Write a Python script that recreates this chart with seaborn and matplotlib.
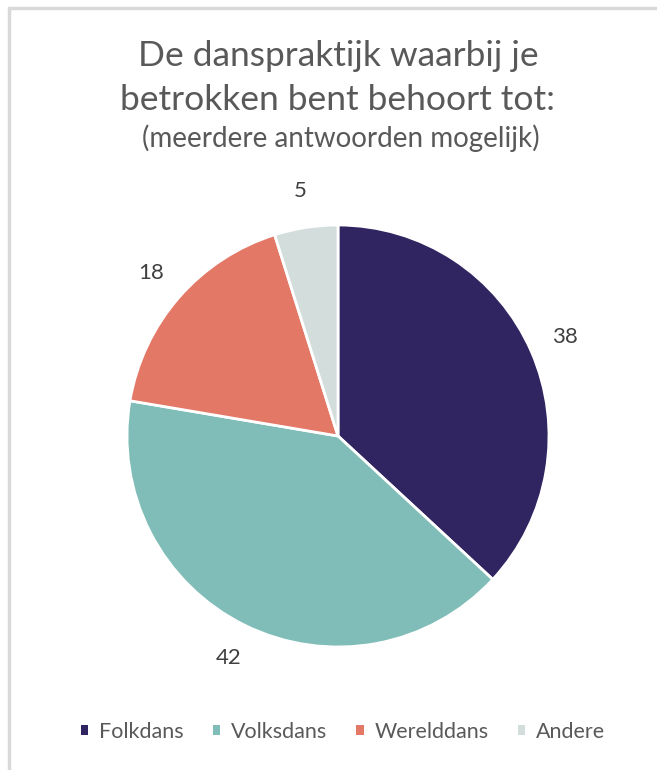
import matplotlib
matplotlib.use("Agg")
import matplotlib.pyplot as plt
import seaborn as sns
from matplotlib.lines import Line2D
from matplotlib.patches import Patch

categories = ["Folkdans", "Volksdans", "Werelddans", "Andere"]
values = [38, 42, 18, 5]
colors = ["#302560", "#80BDB8", "#E37867", "#D3DEDC"]

sns.set_theme(style="white")
plt.rcParams["font.family"] = ["Lato", "DejaVu Sans"]

W, H = 657, 770
fig = plt.figure(figsize=(W / 100, H / 100), dpi=100)
fig.patch.set_facecolor("white")

# pie axes: center (338,436) px, radius 211 px
cx, cy, r = 338, 436, 211
ax = fig.add_axes([(cx - r) / W, (H - cy - r) / H, 2 * r / W, 2 * r / H])
total = sum(values)
wedges, texts, autotexts = ax.pie(
    values, colors=colors, startangle=90, counterclock=False,
    autopct=lambda p: f"{round(p * total / 100)}", pctdistance=1.175,
    wedgeprops=dict(edgecolor="white", linewidth=2),
    textprops=dict(color="#404040", fontsize=16),
)
ax.set_xlim(-1, 1)
ax.set_ylim(-1, 1)
ax.set_aspect("equal")
ax.axis("off")

tc = "#595959"
fig.text(338 / W, 1 - 66 / H, "De danspraktijk waarbij je", ha="center", va="baseline",
         fontsize=25.5, color=tc)
fig.text(338 / W, 1 - 110 / H, "betrokken bent behoort tot:", ha="center", va="baseline",
         fontsize=25.5, color=tc)
fig.text(341 / W, 1 - 147 / H, "(meerdere antwoorden mogelijk)", ha="center", va="baseline",
         fontsize=20, color=tc)

handles = [Patch(facecolor=c, edgecolor="none") for c in colors]
leg = fig.legend(handles, categories, loc="center", bbox_to_anchor=(343 / W, 1 - 732 / H),
                 ncol=4, frameon=False, fontsize=15.5, handlelength=0.35, handleheight=0.35,
                 handletextpad=0.5, columnspacing=1.35, labelcolor="#595959",
                 borderpad=0, borderaxespad=0)

# partial border (top and left)
fig.add_artist(Line2D([9 / W, 1], [1 - 8 / H, 1 - 8 / H], color="#D9D9D9", lw=2.5,
                      transform=fig.transFigure))
fig.add_artist(Line2D([9 / W, 9 / W], [0, 1 - 8 / H], color="#D9D9D9", lw=2.5,
                      transform=fig.transFigure))

fig.savefig("out.png", dpi=100)
